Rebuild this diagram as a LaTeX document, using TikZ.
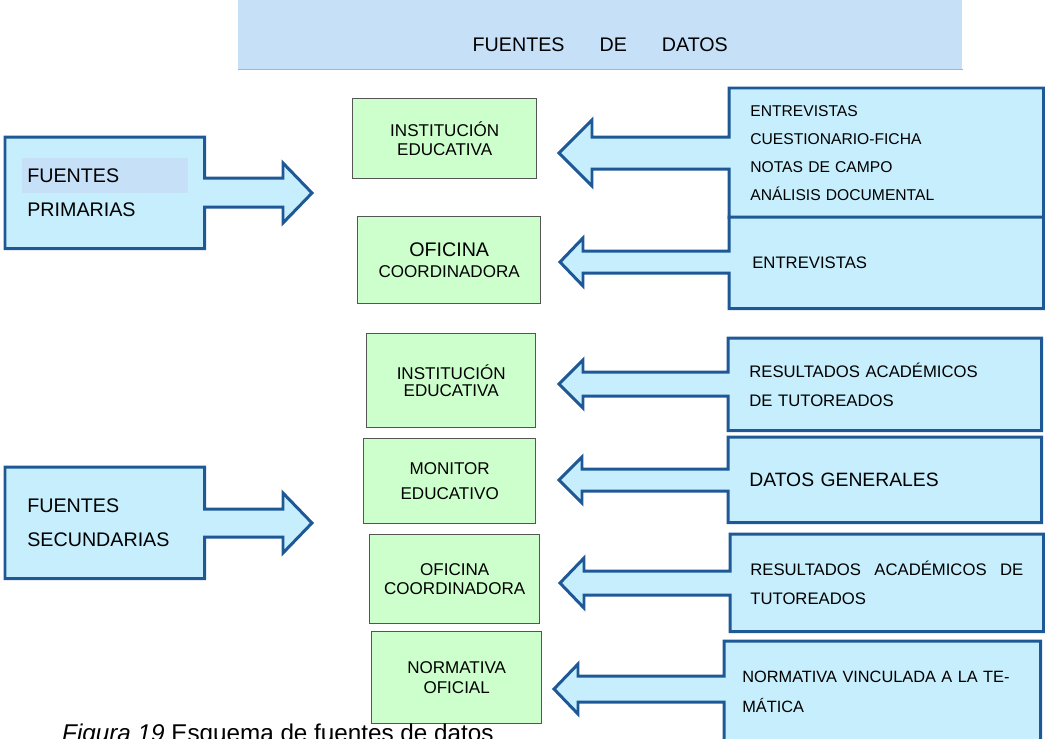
\documentclass[tikz,border=0pt]{standalone}
\usepackage{fontspec}
\setmainfont{Liberation Sans}
\usetikzlibrary{backgrounds}
\definecolor{azulcaja}{RGB}{198,238,252}
\definecolor{azulborde}{RGB}{30,88,150}
\definecolor{banda}{RGB}{198,224,248}
\definecolor{verdecaja}{RGB}{204,255,204}
\definecolor{grisborde}{RGB}{85,85,85}

\tikzset{
  caja/.style={anchor=north west, inner sep=0pt, align=left},
  verde/.style={draw=grisborde, fill=verdecaja, line width=0.8pt, anchor=north west,
    inner sep=0pt, align=center, font=\fontsize{9.7}{10.8}\selectfont},
  borde/.style={draw=azulborde, fill=azulcaja, line width=1.7pt, line join=miter},
}

\begin{document}
\begin{tikzpicture}[x=0.02cm, y=-0.02cm]
\useasboundingbox (0,0) rectangle (1045,738);
\clip (0,0) rectangle (1045,738);

% titulo
\node[anchor=north west, fill=banda, minimum width=14.48cm, minimum height=1.38cm, inner sep=0pt,
  text height=0.66cm, text depth=0pt, font=\fontsize{11.2}{13}\selectfont] (titulo) at (238,0)
  {FUENTES\hspace{0.7cm}DE\hspace{0.7cm}DATOS};
\draw[gray!60, line width=0.8pt] (titulo.south west) -- (titulo.south east);

% fuentes
\node[caja, minimum width=3.98cm, minimum height=2.22cm, text width=3.1cm,
  font=\fontsize{11.2}{19.4}\selectfont] (prim) at (5,137) {FUENTES\\PRIMARIAS};
\node[caja, minimum width=3.98cm, minimum height=2.22cm, text width=3.1cm,
  font=\fontsize{11.2}{19.4}\selectfont] (secu) at (5,467) {FUENTES\\SECUNDARIAS};

% cajas verdes
\node[verde, minimum width=3.68cm, minimum height=1.6cm] (inst1) at (352,98) {INSTITUCIÓN\\EDUCATIVA};
\node[verde, minimum width=3.66cm, minimum height=1.74cm] (ofi1) at (357,216)
  {{\fontsize{11.2}{12}\selectfont OFICINA}\\[1pt]COORDINADORA};
\node[verde, minimum width=3.38cm, minimum height=1.88cm] (inst2) at (366,333) {INSTITUCIÓN\\[-1.5pt]EDUCATIVA};
\node[verde, minimum width=3.44cm, minimum height=1.70cm] (moni) at (363,438) {MONITOR\\[3pt]EDUCATIVO};
\node[verde, minimum width=3.40cm, minimum height=1.78cm] (ofi2) at (369,534) {OFICINA\\COORDINADORA};
\node[verde, minimum width=3.40cm, minimum height=1.84cm] (norma) at (371,631) {NORMATIVA\\[1pt]OFICIAL};

% cajas azules
\node[caja, minimum width=6.28cm, minimum height=2.58cm, text width=5.44cm,
  font=\fontsize{8.9}{15.9}\selectfont] (ent1) at (729,88)
  {ENTREVISTAS\\CUESTIONARIO-FICHA\\NOTAS DE CAMPO\\ANÁLISIS DOCUMENTAL};
\node[caja, minimum width=6.28cm, minimum height=1.82cm, text width=5.36cm,
  font=\fontsize{9.5}{11}\selectfont] (ent2) at (729,217) {ENTREVISTAS};
\node[caja, minimum width=6.26cm, minimum height=1.84cm, text width=5.42cm,
  font=\fontsize{9.5}{16.5}\selectfont] (res1) at (728,338) {RESULTADOS ACADÉMICOS\\DE TUTOREADOS};
\node[caja, minimum width=6.26cm, minimum height=1.70cm, text width=5.42cm,
  font=\fontsize{11}{13}\selectfont] (dat) at (728,437) {DATOS GENERALES};
\node[caja, minimum width=6.26cm, minimum height=1.94cm, text width=5.46cm,
  font=\fontsize{9.5}{17}\selectfont] (res2) at (730,534) {RESULTADOS\hfill ACADÉMICOS\hfill DE\\TUTOREADOS};
\node[caja, minimum width=6.32cm, minimum height=2.02cm, text width=5.6cm,
  font=\fontsize{9.3}{17}\selectfont] (norm) at (724,641) {NORMATIVA VINCULADA A LA TE-\\MÁTICA};

\begin{scope}[on background layer]
% flechas hacia la derecha
\filldraw[borde] (prim.east |- 0,178) -- (283,178) -- (283,163) -- (312,193) -- (283,223) -- (283,207)
  -- (prim.east |- 0,207) -- (prim.south east) -- (prim.south west) -- (prim.north west) -- (prim.north east) -- cycle;
\filldraw[borde] (secu.east |- 0,509) -- (283,509) -- (283,493) -- (312,523) -- (283,553) -- (283,537)
  -- (secu.east |- 0,537) -- (secu.south east) -- (secu.south west) -- (secu.north west) -- (secu.north east) -- cycle;
\fill[banda] (22,158) rectangle (188,193);
% flechas hacia la izquierda
\foreach \b/\y/\s/\h/\l/\p in {ent1/153/16/33/592/559, ent2/262/11/24/583/560, res1/384/12/24/583/559,
  dat/480/11/23/582/559, res2/583/12/25/584/560, norm/689/13/25/578/554}
  \filldraw[borde] (\b.west |- 0,\y-\s) -- (\l,\y-\s) -- (\l,\y-\h) -- (\p,\y) -- (\l,\y+\h) -- (\l,\y+\s)
    -- (\b.west |- 0,\y+\s) -- (\b.south west) -- (\b.south east) -- (\b.north east) -- (\b.north west) -- cycle;
\end{scope}

\node[anchor=base west, font=\fontsize{13.8}{16}\selectfont] (pie) at (56,741)
  {\textit{Figura 19} Esquema de fuentes de datos};
\end{tikzpicture}
\end{document}
